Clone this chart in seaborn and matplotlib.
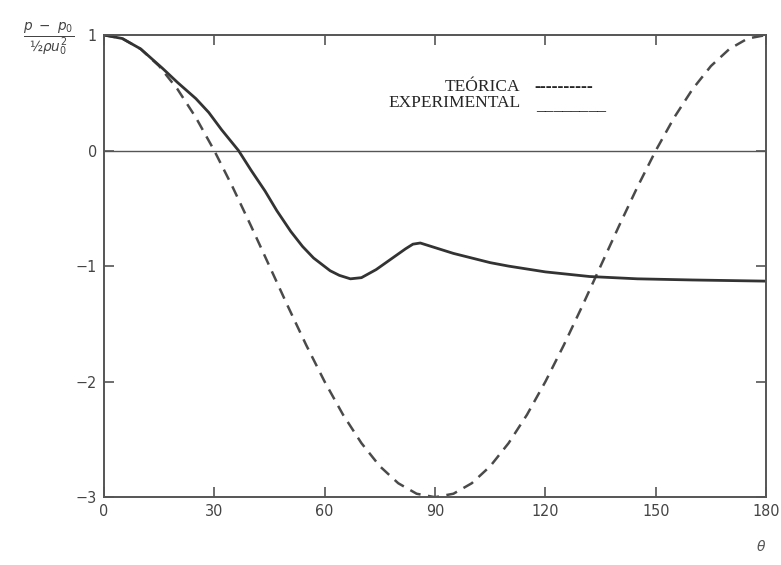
import numpy as np
import pandas as pd
import matplotlib
matplotlib.use("Agg")
import matplotlib.pyplot as plt
import seaborn as sns

# Pressure coefficient around a cylinder: theory vs. experiment
theta_teo = [0, 5, 10, 15, 20, 25, 30, 35, 40, 45, 50, 55, 60, 65, 70, 75, 80, 85, 90,
             95, 100, 105, 110, 115, 120, 125, 130, 135, 140, 145, 150, 155, 160, 165, 170, 175, 180]
cp_teo = [1.0, 0.970, 0.879, 0.732, 0.532, 0.286, 0.0, -0.316, -0.653, -1.0, -1.347, -1.684,
          -2.0, -2.286, -2.532, -2.732, -2.879, -2.970, -3.0,
          -2.970, -2.879, -2.732, -2.532, -2.286, -2.0, -1.684, -1.347, -1.0, -0.653, -0.316,
          0.0, 0.286, 0.532, 0.732, 0.879, 0.970, 1.0]

theta_exp = [0, 5, 10, 16, 20, 25, 28.5, 32, 36.6, 40, 43.8, 47, 50.8, 54, 57, 61.5, 64, 67,
             70, 74, 78, 82, 84, 86, 90, 95, 100, 105, 110, 120, 132, 145, 160, 180]
cp_exp = [1.0, 0.97, 0.88, 0.71, 0.59, 0.45, 0.33, 0.18, 0.0, -0.17, -0.35, -0.52, -0.70,
          -0.83, -0.93, -1.04, -1.08, -1.11, -1.10, -1.03, -0.94, -0.85, -0.81, -0.80,
          -0.84, -0.89, -0.93, -0.97, -1.00, -1.05, -1.09, -1.11, -1.12, -1.13]

x_ticks = [0, 30, 60, 90, 120, 150, 180]
y_ticks = [-3, -2, -1, 0, 1]

df_teo = pd.DataFrame({"theta": theta_teo, "cp": cp_teo})
df_exp = pd.DataFrame({"theta": theta_exp, "cp": cp_exp})

sns.set_style("ticks")
fig = plt.figure(figsize=(7.81, 5.65), dpi=100)
ax = fig.add_axes([0.133, 0.12, 0.848, 0.818])

ax.axhline(0, color="#555555", linewidth=1.0, zorder=1)
sns.lineplot(data=df_teo, x="theta", y="cp", ax=ax, color="#4a4a4a", linewidth=1.8,
             dashes=False, linestyle=(0, (4.5, 3)))
sns.lineplot(data=df_exp, x="theta", y="cp", ax=ax, color="#333333", linewidth=2.0)

ax.set_xlim(0, 180)
ax.set_ylim(-3, 1)
ax.set_xticks(x_ticks)
ax.set_yticks(y_ticks)
ax.set_xticklabels([str(t) for t in x_ticks])
ax.set_yticklabels([("\u2212" + str(-t)) if t < 0 else str(t) for t in y_ticks])
ax.tick_params(direction="in", length=7, width=1.2, color="#555555",
               top=True, right=True, labelsize=11.5, labelcolor="#444444", pad=5)
for lab in ax.get_xticklabels() + ax.get_yticklabels():
    lab.set_family("DejaVu Sans")
    lab.set_stretch("condensed")
for s in ax.spines.values():
    s.set_color("#555555")
    s.set_linewidth(1.4)
ax.set_xlabel("")
ax.set_ylabel("")

# axis labels
fig.text(0.975, 0.025, r"$\theta$", fontsize=10, color="#555555", ha="center")
fig.text(0.062, 0.93, r"$\frac{p\ -\ p_0}{½\rho u_0^2}$", fontsize=14,
         color="#444444", ha="center", va="center")

# legend written as text
fig.text(0.666, 0.846, "TEÓRICA", family="Liberation Serif", fontsize=12.5, ha="right", va="center")
fig.text(0.684, 0.846, "----------", family="Liberation Serif", fontsize=13, fontweight="bold",
         ha="left", va="center")
fig.text(0.666, 0.817, "EXPERIMENTAL", family="Liberation Serif", fontsize=12.5, ha="right", va="center")
fig.text(0.687, 0.813, "________", family="Liberation Serif", fontsize=12.5, fontweight="bold",
         ha="left", va="center")

fig.savefig("out.png", dpi=100)
